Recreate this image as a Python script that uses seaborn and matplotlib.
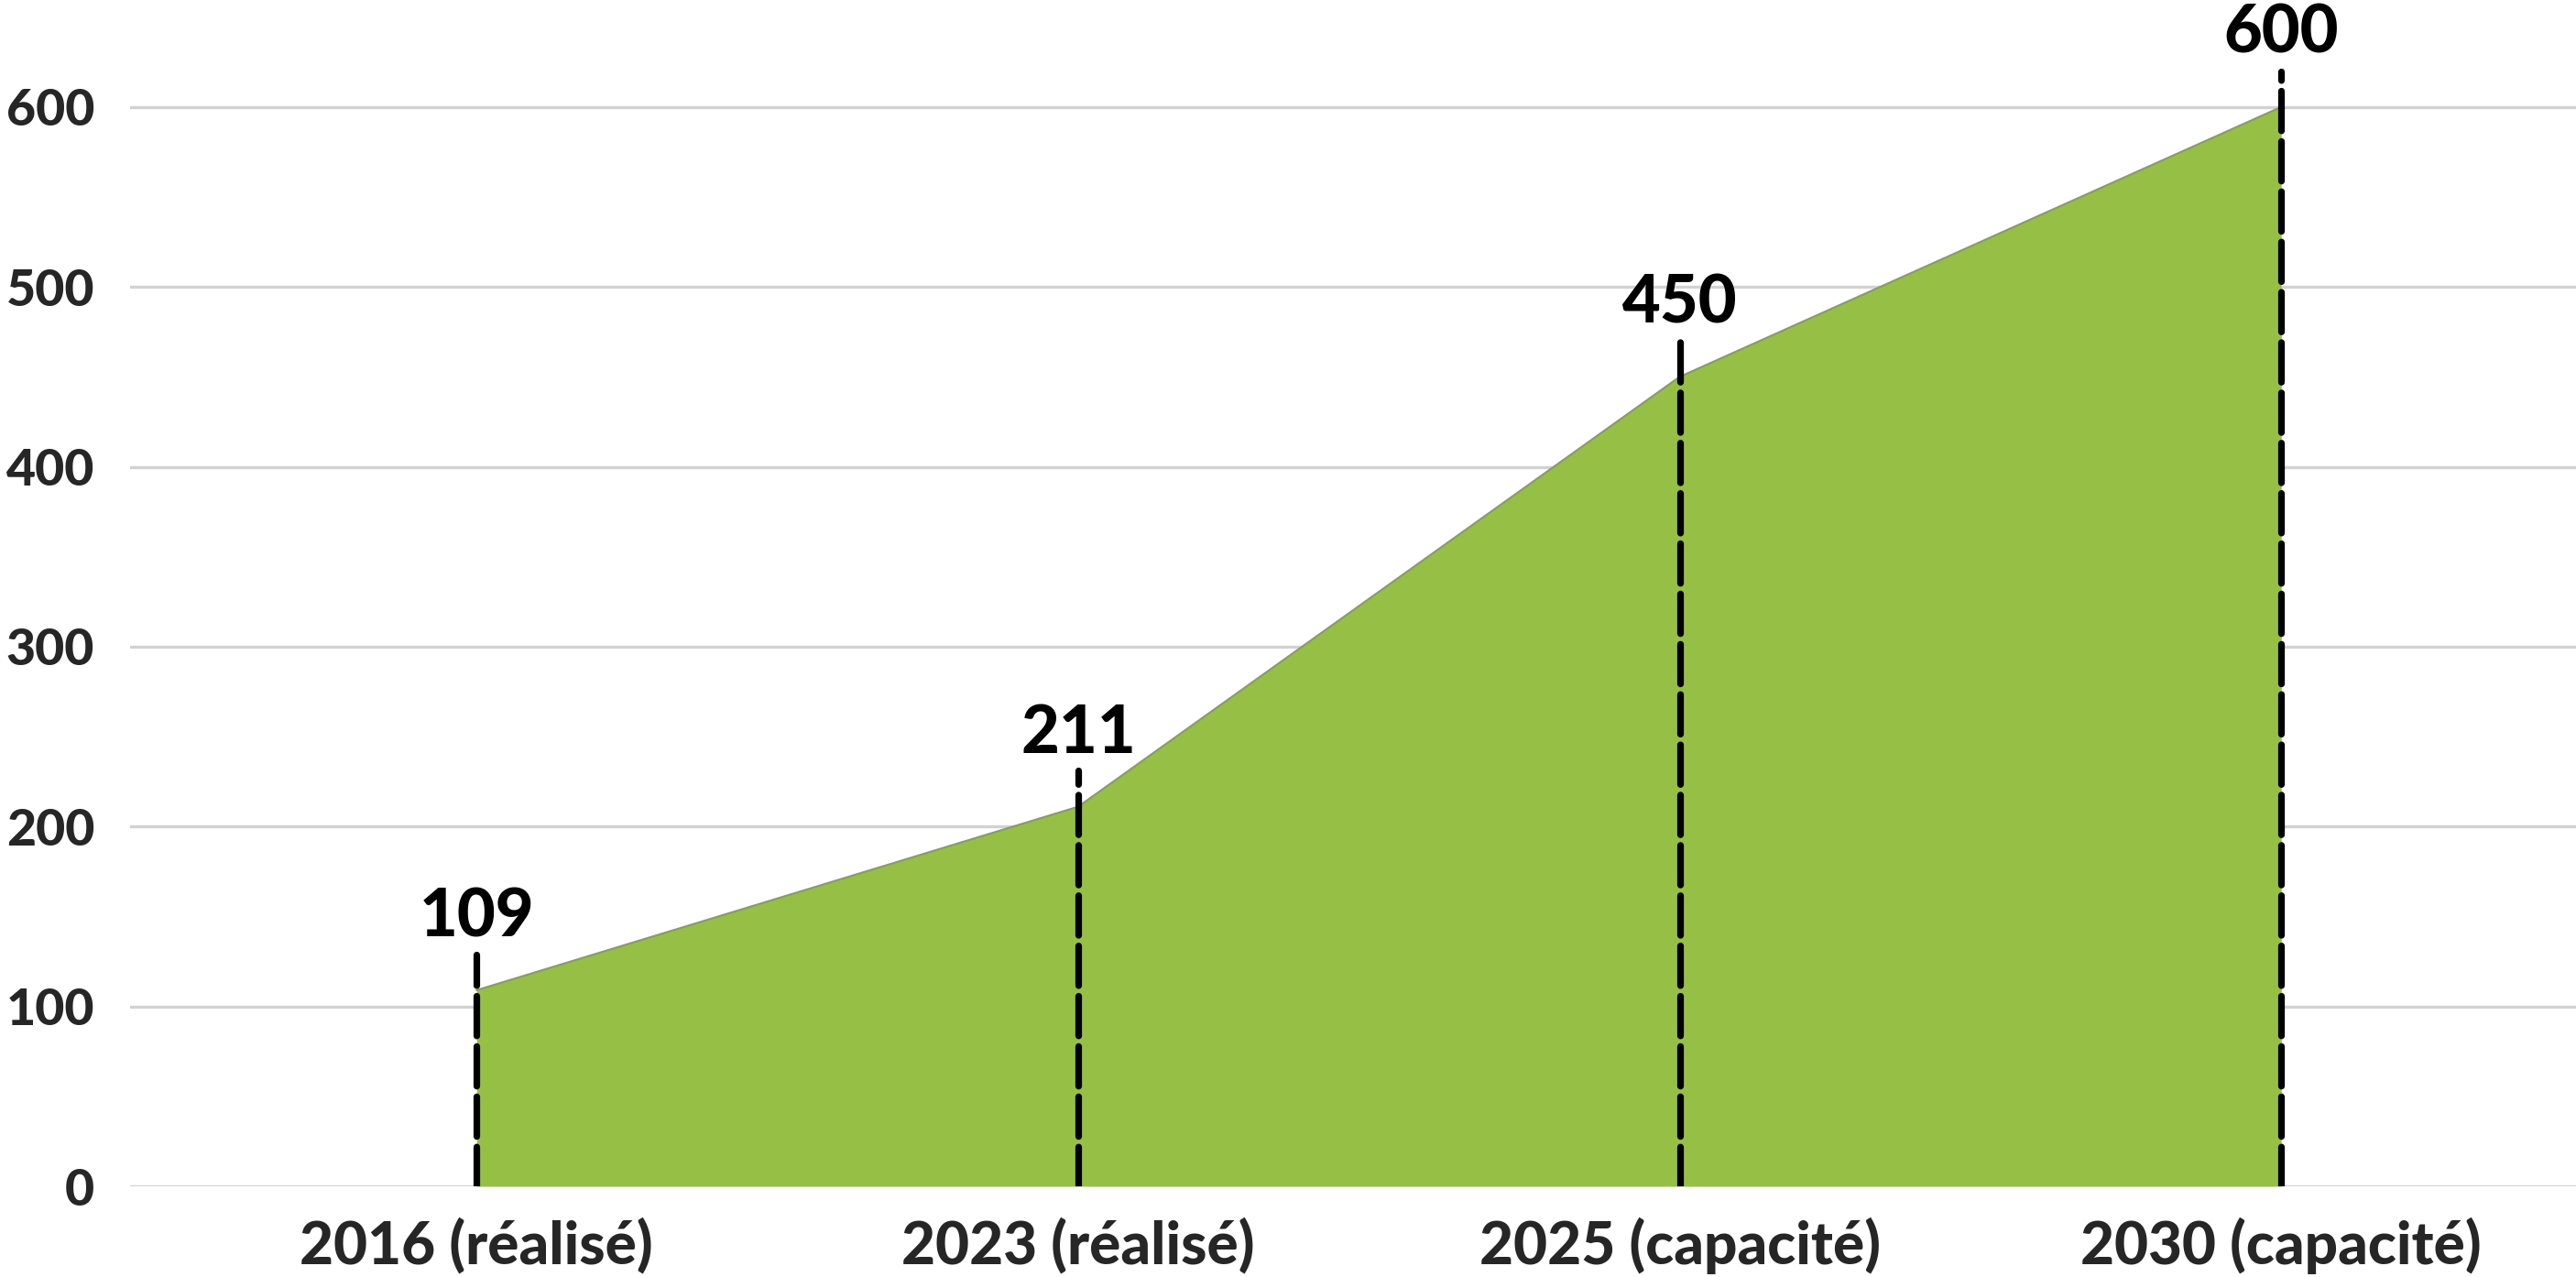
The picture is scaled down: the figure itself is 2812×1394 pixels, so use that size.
import numpy as np
import pandas as pd
import matplotlib
matplotlib.use("Agg")
import matplotlib.pyplot as plt
import seaborn as sns

# Data
categories = ["2016 (réalisé)", "2023 (réalisé)", "2025 (capacité)", "2030 (capacité)"]
values = [109, 211, 450, 600]
y_ticks = [0, 100, 200, 300, 400, 500, 600]

df = pd.DataFrame({"cat": categories, "val": values})
df["pos"] = np.arange(len(df))

sns.set_theme(style="white")
plt.rcParams['font.family'] = ['Lato', 'DejaVu Sans']

GREEN = "#95c045"

fig = plt.figure(figsize=(14.06, 6.97), dpi=200)
ax = fig.add_axes([142 / 2812, 1 - 1295 / 1394, 1 - 142 / 2812, 1295 / 1394])

ax.fill_between(df["pos"], 0, df["val"], color=GREEN, linewidth=0, zorder=2)
sns.lineplot(data=df, x="pos", y="val", ax=ax, color="#8a9a6a", linewidth=0.8, zorder=3)

# dashed markers + value labels
for p, v in zip(df["pos"], df["val"]):
    ax.plot([p, p], [0, v + 20], color="black", linewidth=2.6,
            linestyle=(0, (6, 1.6)), zorder=4, dash_capstyle="round")
    ax.text(p, v + 30, str(v), ha="center", va="baseline",
            fontsize=26, fontweight="black", color="black", zorder=5)

ax.set_xlim(-0.576, 3.49)
ax.set_ylim(0, 659.5)
ax.set_yticks(y_ticks)
ax.set_xticks(df["pos"])
ax.set_xticklabels(categories)
ax.yaxis.grid(True, color="#d2d2d2", linewidth=1.2, zorder=0)
ax.set_axisbelow(True)
for s in ax.spines.values():
    s.set_visible(False)
ax.tick_params(axis="y", length=0, pad=14, labelsize=20)
ax.tick_params(axis="x", length=0, pad=12, labelsize=23)
for lbl in ax.get_xticklabels() + ax.get_yticklabels():
    lbl.set_fontweight("black")
ax.set_xlabel("")
ax.set_ylabel("")

fig.savefig("out.png", dpi=200)
